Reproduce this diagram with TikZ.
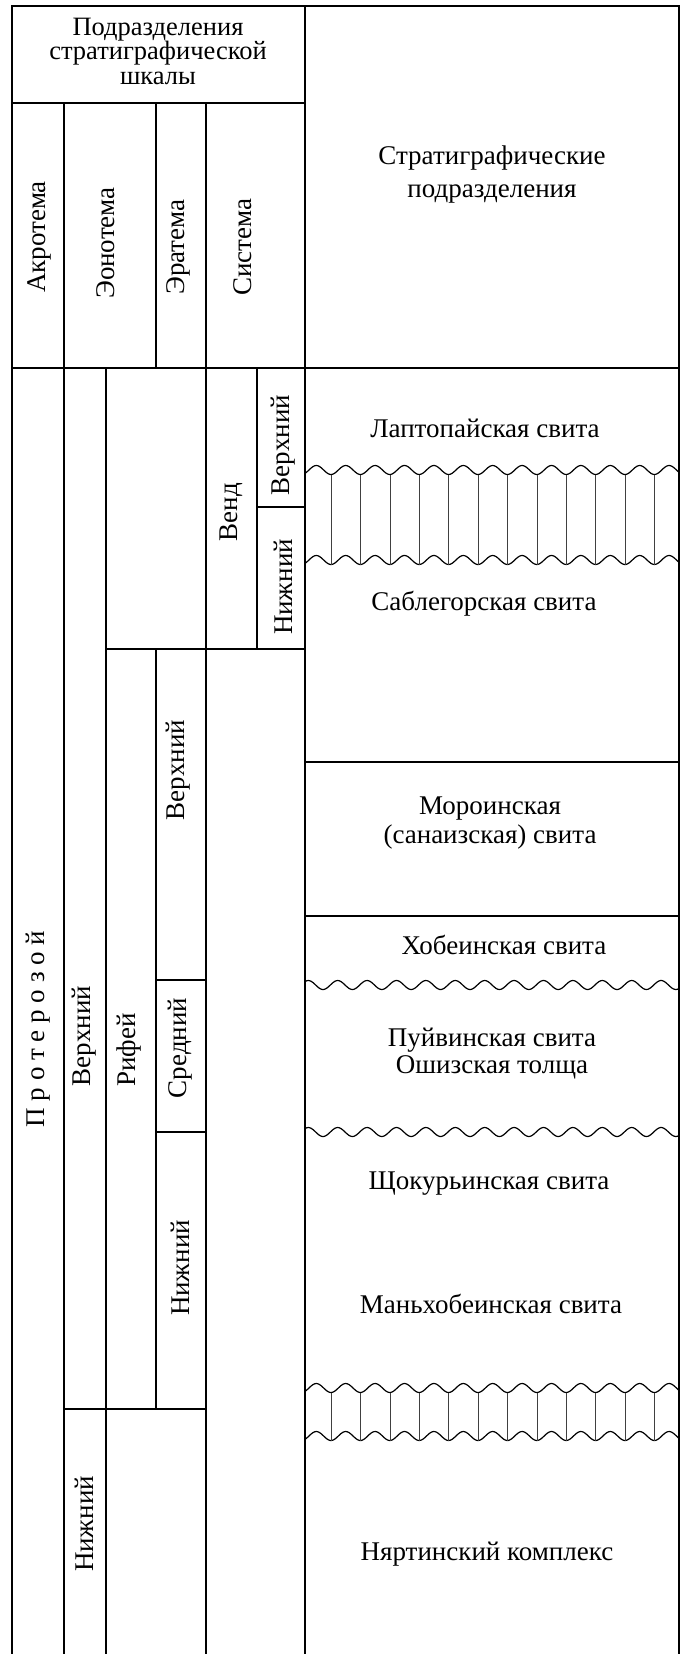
\documentclass[tikz,border=0pt]{standalone}
\usepackage{fontspec}
\setmainfont{Liberation Serif}
\begin{document}
\begin{tikzpicture}[x=1pt,y=-1pt,
  rule/.style={line width=1.6pt},
  boldrule/.style={line width=2.1pt},
  divider/.style={line width=2.6pt},
  finerule/.style={line width=1.2pt},
  wave/.style={line width=1.2pt},
  hatch/.style={line width=0.6pt, black!75},
  lbl/.style={font=\fontsize{27}{33}\selectfont, align=center, inner sep=0pt},
  vlbl/.style={lbl, rotate=90}]

\useasboundingbox (0,0) rectangle (682,1654);

% outer frame and main divider
\draw[boldrule] (12,1654) -- (12,6) -- (679,6) -- (679,1654);
\draw[divider] (305,6) -- (305,1654);

% header of the scale
\draw[boldrule] (12,103) -- (305,103);
\draw[boldrule] (12,368) -- (679,368);
\draw[rule] (64,103) -- (64,1654);
\draw[rule] (156,103) -- (156,368);
\draw[rule] (206,103) -- (206,1654);

% subdivisions of the scale
\draw[rule] (106,368) -- (106,1654);
\draw[rule] (257,368) -- (257,649);
\draw[rule] (257,507) -- (305,507);
\draw[boldrule] (106,649) -- (305,649);
\draw[rule] (156,649) -- (156,1409);
\draw[finerule] (156,980) -- (206,980);
\draw[finerule] (156,1132) -- (206,1132);
\draw[boldrule] (64,1409) -- (206,1409);

% straight boundaries of the units
\draw[boldrule] (305,762) -- (679,762);
\draw[boldrule] (305,916) -- (679,916);

% unconformities (single wavy lines)
\draw[wave] plot[domain=305:679, samples=240, smooth]
  (\x, {985 + 4.5*cos((\x-323)/29.4*360)});
\draw[wave] plot[domain=305:679, samples=240, smooth]
  (\x, {1132 + 4.5*cos((\x-323)/29.4*360)});

% hatched bands between paired wavy lines
\draw[wave] plot[domain=305:679, samples=240, smooth]
  (\x, {470 + 4.5*cos((\x-331)/29.4*360)});
\draw[wave] plot[domain=305:679, samples=240, smooth]
  (\x, {560 + 4.5*cos((\x-331)/29.4*360)});
\foreach \i in {0,...,11}
  \draw[hatch] ({331+29.4*\i},474.5) -- ({331+29.4*\i},564.5);

\draw[wave] plot[domain=305:679, samples=240, smooth]
  (\x, {1388 + 4.5*cos((\x-331)/29.4*360)});
\draw[wave] plot[domain=305:679, samples=240, smooth]
  (\x, {1436 + 4.5*cos((\x-331)/29.4*360)});
\foreach \i in {0,...,11}
  \draw[hatch] ({331+29.4*\i},1392.5) -- ({331+29.4*\i},1440.5);

% header texts
\node[lbl, font=\fontsize{26.5}{24.5}\selectfont] (hdr) at (158,51)
  {Подразделения\\стратиграфической\\шкалы};
\node[lbl] (units) at (492,175) {Стратиграфические\\подразделения};
\node[vlbl] (akro) at (39,237) {Акротема};
\node[vlbl] (eono) at (106,243) {Эонотема};
\node[vlbl] (era) at (178,247) {Эратема};
\node[vlbl] (sys) at (243,247) {Система};

% scale labels
\node[vlbl] (prot) at (38,1029) {П р о т е р о з о й};
\node[vlbl] (eonup) at (84,1036) {Верхний};
\node[vlbl] (eonlow) at (84,1524) {Нижний};
\node[vlbl] (rif) at (129,1050) {Рифей};
\node[vlbl] (rifup) at (178,770) {Верхний};
\node[vlbl] (rifmid) at (180,1048) {Средний};
\node[vlbl] (riflow) at (180,1268) {Нижний};
\node[vlbl] (vend) at (231,512) {Венд};
\node[vlbl] (vendup) at (283,445) {Верхний};
\node[vlbl] (vendlow) at (283,587) {Нижний};

% stratigraphic units
\node[lbl] (lapt) at (485,428) {Лаптопайская свита};
\node[lbl] (sabl) at (484,604) {Саблегорская свита};
\node[lbl, font=\fontsize{27}{29}\selectfont] (moro) at (490,823)
  {Мороинская\\(санаизская) свита};
\node[lbl] (khob) at (504,945) {Хобеинская свита};
\node[lbl, font=\fontsize{27}{27}\selectfont] (puyv) at (492,1054)
  {Пуйвинская свита\\Ошизская толща};
\node[lbl] (shch) at (489,1184) {Щокурьинская свита};
\node[lbl] (manh) at (491,1304) {Маньхобеинская свита};
\node[lbl] (nyar) at (487,1554) {Няртинский комплекс};
\end{tikzpicture}
\end{document}
